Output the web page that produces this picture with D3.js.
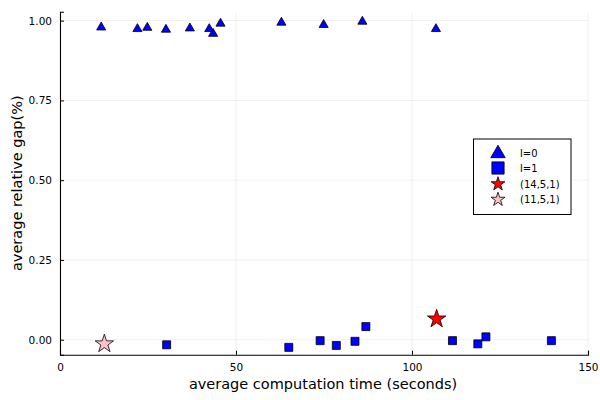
<!DOCTYPE html>
<html><head><meta charset="utf-8">
<script src="https://cdn.jsdelivr.net/npm/d3@7"></script>
<style>body{margin:0;background:#fff}svg{display:block}text{font-family:"DejaVu Sans",sans-serif}</style>
</head><body>
<svg id="c" width="600" height="400"></svg>
<script>
const l0X = [11.7, 22.0, 24.8, 30.1, 36.9, 42.4, 43.5, 45.6, 62.9, 74.9, 85.9, 106.8];
const l0Y = [0.979, 0.974, 0.978, 0.972, 0.976, 0.974, 0.959, 0.991, 0.994, 0.987, 0.997, 0.974];
const l1X = [30.3, 65.0, 73.9, 78.5, 83.8, 86.9, 111.5, 118.7, 121.0, 139.6];
const l1Y = [-0.016, -0.024, -0.003, -0.018, -0.005, 0.041, -0.003, -0.013, 0.009, -0.003];
const star1 = {label: "(14,5,1)", x: 107.0, y: 0.065};
const star2 = {label: "(11,5,1)", x: 12.6, y: -0.013};
const xTicks = [0, 50, 100, 150];
const yTicks = [0, 0.25, 0.5, 0.75, 1.0];
const legendLabels = ["l=0", "l=1", star1.label, star2.label];

const svg = d3.select("#c");
const L = 60, R = 588, T = 11.7, B = 354.7;
const x = d3.scaleLinear().domain([0, 150]).range([L, R]);
const y = d3.scaleLinear().domain([-0.047, 1.028]).range([B, T]);

// grid
const g = svg.append("g");
g.selectAll(".gx").data(xTicks).enter().append("line")
  .attr("x1", d => x(d)).attr("x2", d => x(d)).attr("y1", T).attr("y2", B)
  .attr("stroke", "#000").attr("stroke-opacity", 0.1).attr("stroke-width", 0.6);
g.selectAll(".gy").data(yTicks).enter().append("line")
  .attr("x1", L).attr("x2", R).attr("y1", d => y(d)).attr("y2", d => y(d))
  .attr("stroke", "#000").attr("stroke-opacity", 0.1).attr("stroke-width", 0.6);

// axes
const xa = svg.append("g").attr("transform", `translate(0,${B})`)
  .call(d3.axisBottom(x).tickValues(xTicks).tickSize(-4).tickPadding(9).tickFormat(d3.format("d")));
const ya = svg.append("g").attr("transform", `translate(${L},0)`)
  .call(d3.axisLeft(y).tickValues(yTicks).tickSize(-4).tickPadding(8).tickFormat(d3.format(".2f")));
[xa, ya].forEach(a => {
  a.select(".domain").attr("stroke", "#000").attr("stroke-width", 1.1);
  a.selectAll(".tick line").attr("stroke", "#000").attr("stroke-width", 1);
  a.selectAll(".tick text").attr("font-size", 10.5).attr("fill", "#000")
   .attr("font-family", '"DejaVu Sans",sans-serif');
});

// axis labels
svg.append("text").attr("x", (L + R) / 2 - 1).attr("y", 389).attr("text-anchor", "middle")
  .attr("font-size", 14.5).text("average computation time (seconds)");
svg.append("text").attr("transform", `translate(22,${(T + B) / 2}) rotate(-90)`)
  .attr("text-anchor", "middle").attr("font-size", 14.5).text("average relative gap(%)");

const tri = d3.symbol().type(d3.symbolTriangle).size(36);
const sq = d3.symbol().type(d3.symbolSquare).size(64);
const st = d3.symbol().type(d3.symbolStar).size(105);

svg.append("g").selectAll("path").data(l0X.map((v, i) => [v, l0Y[i]])).enter().append("path")
  .attr("d", tri).attr("transform", d => `translate(${x(d[0])},${y(d[1])})`)
  .attr("fill", "#0000ff").attr("stroke", "#000").attr("stroke-width", 0.8);
svg.append("g").selectAll("path").data(l1X.map((v, i) => [v, l1Y[i]])).enter().append("path")
  .attr("d", sq).attr("transform", d => `translate(${x(d[0])},${y(d[1])})`)
  .attr("fill", "#0000ff").attr("stroke", "#000").attr("stroke-width", 0.8);
svg.append("path").attr("d", st).attr("transform", `translate(${x(star1.x)},${y(star1.y)})`)
  .attr("fill", "#ff0000").attr("stroke", "#000").attr("stroke-width", 0.8);
svg.append("path").attr("d", st).attr("transform", `translate(${x(star2.x)},${y(star2.y)})`)
  .attr("fill", "#ffc0cb").attr("stroke", "#000").attr("stroke-width", 0.8);

// legend
const lg = svg.append("g");
lg.append("rect").attr("x", 473.5).attr("y", 139).attr("width", 97.5).attr("height", 75.5)
  .attr("fill", "#fff").attr("stroke", "#000").attr("stroke-width", 1);
const ly = [153.5, 168, 184, 199.5];
const lSyms = [d3.symbol().type(d3.symbolTriangle).size(90), d3.symbol().type(d3.symbolSquare).size(150),
  d3.symbol().type(d3.symbolStar).size(60), d3.symbol().type(d3.symbolStar).size(60)];
const lFill = ["#0000ff", "#0000ff", "#ff0000", "#ffc0cb"];
legendLabels.forEach((t, i) => {
  lg.append("path").attr("d", lSyms[i]).attr("transform", `translate(498,${ly[i]})`)
    .attr("fill", lFill[i]).attr("stroke", "#000").attr("stroke-width", 0.8);
  lg.append("text").attr("x", 520).attr("y", ly[i]).attr("dy", "0.35em")
    .attr("font-size", 10).text(t);
});
</script>
</body></html>
